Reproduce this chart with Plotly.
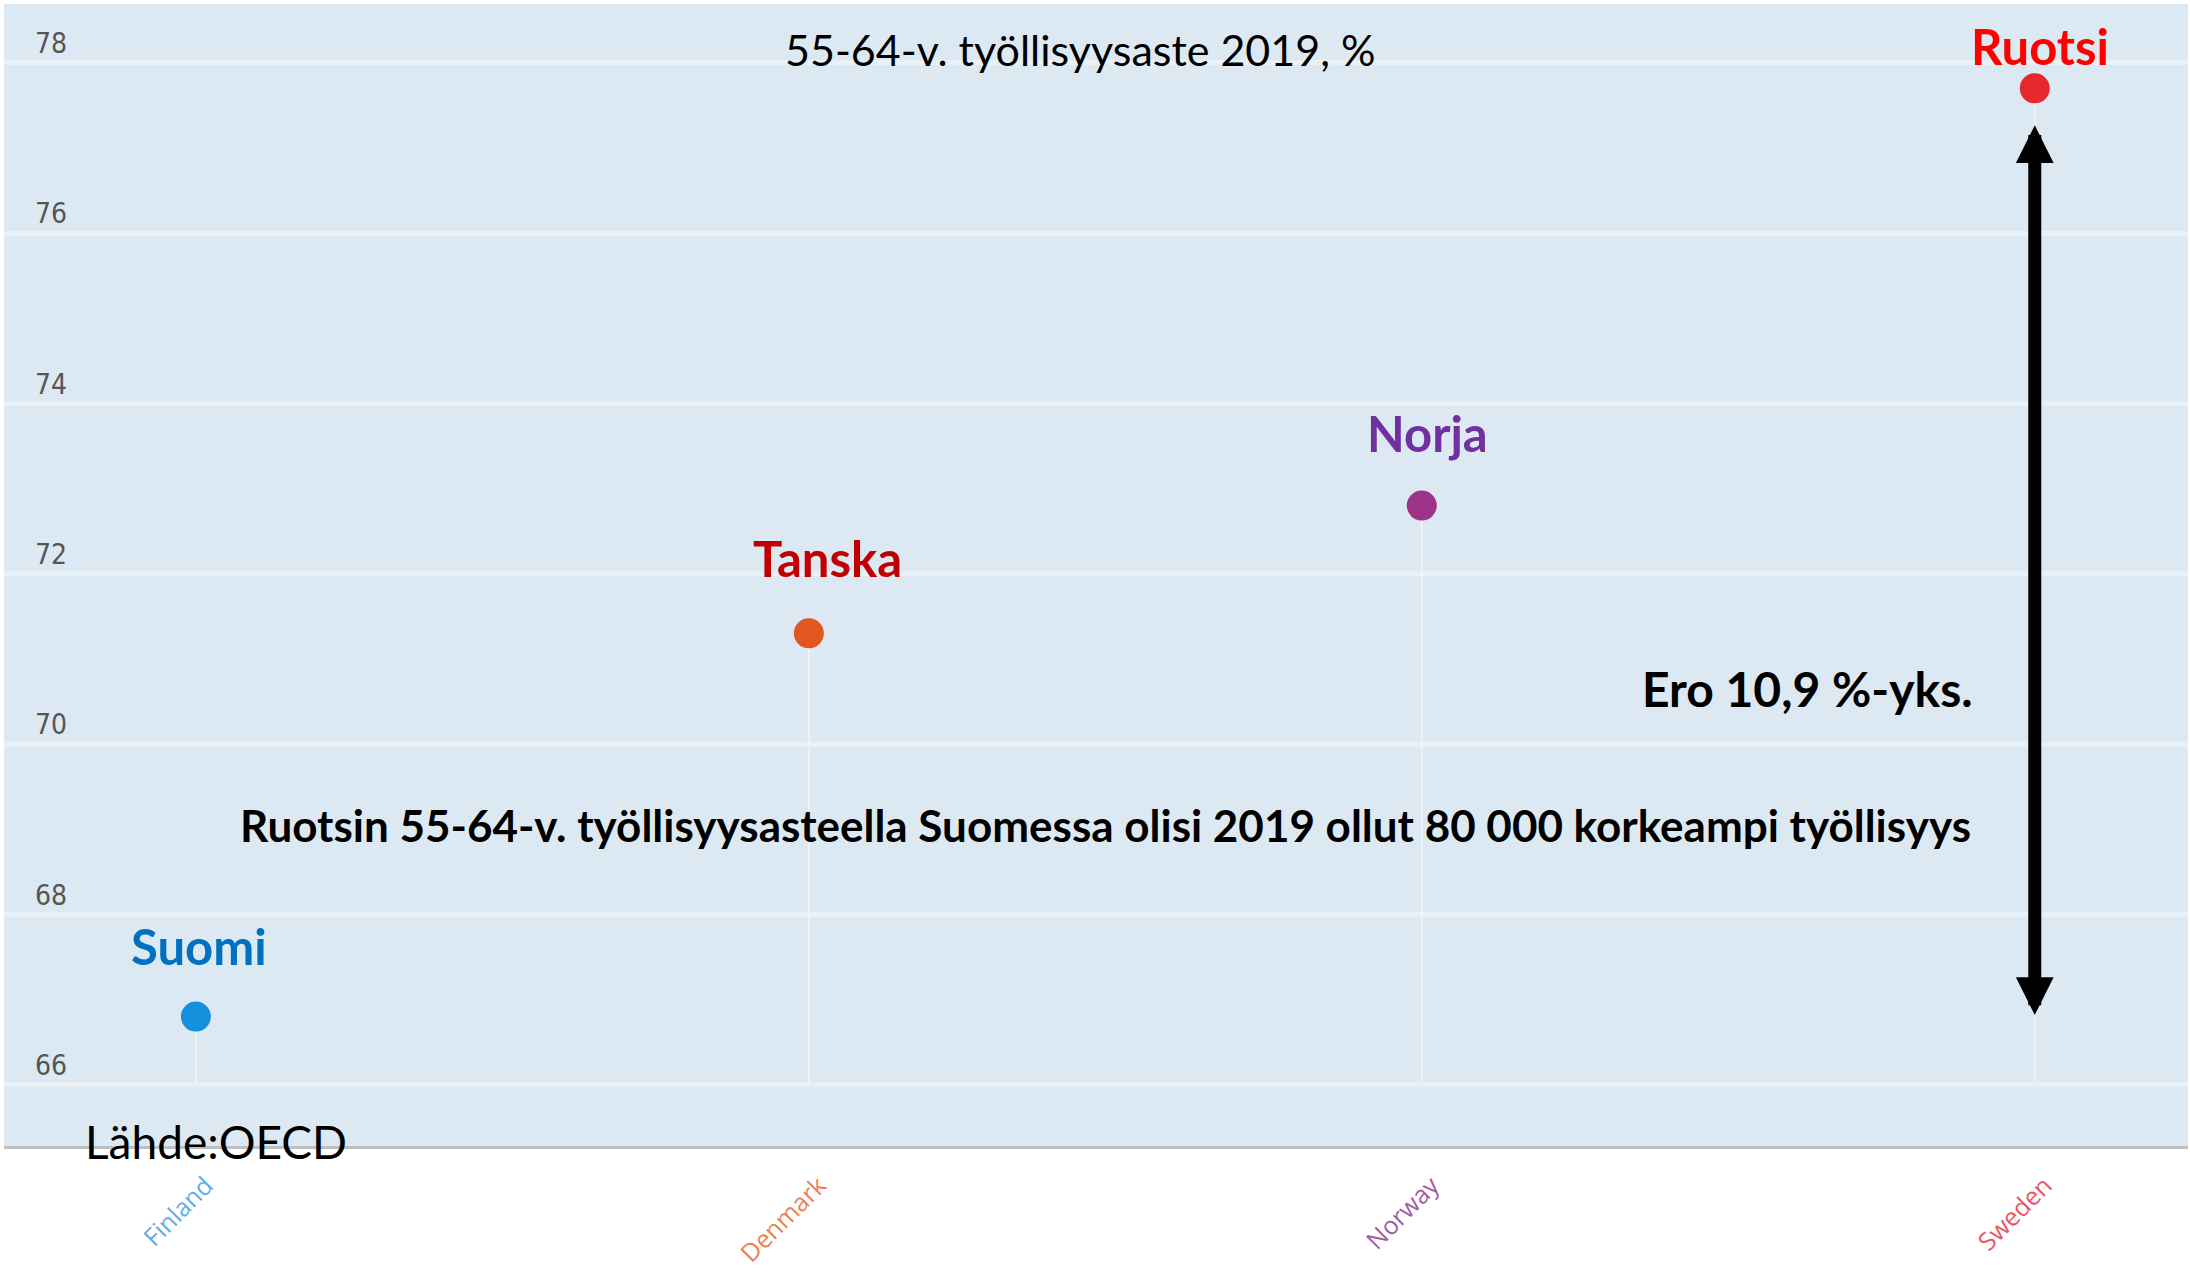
import plotly.graph_objects as go

# ---- data ----
countries = ["Finland", "Denmark", "Norway", "Sweden"]
labels_fi = ["Suomi", "Tanska", "Norja", "Ruotsi"]
rates = [66.8, 71.3, 72.8, 77.7]
dot_colors = ["#1590dc", "#e2561f", "#9c3589", "#e8282f"]
label_colors = ["#0070c0", "#c00000", "#7030a0", "#ff0000"]
tick_colors = ["#5eaee6", "#ee7f52", "#a45ca2", "#ea5560"]
y_ticks = [66, 68, 70, 72, 74, 76, 78]
baseline = 66

title_text = "55-64-v. työllisyysaste 2019, %"
diff_text = "Ero 10,9 %-yks."
note_text = "Ruotsin 55-64-v. työllisyysasteella Suomessa olisi 2019 ollut 80 000 korkeampi työllisyys"
source_text = "Lähde:OECD"

FONT = "Lato, 'Open Sans', sans-serif"

W, H = 2190, 1276
L, R, T, B = 4, 2, 4, 130
pw, ph = W - L - R, H - T - B


def px_x(x):
    return (x - L) / pw


def px_y(y):
    return 1 - (y - T) / ph


fig = go.Figure()

# stems
for c, v in zip(countries, rates):
    fig.add_trace(go.Scatter(
        x=[c, c], y=[baseline, v], mode="lines",
        line=dict(color="#eef3f8", width=2),
        hoverinfo="skip", showlegend=False))

# dots
fig.add_trace(go.Scatter(
    x=countries, y=rates, mode="markers",
    marker=dict(size=30, color=dot_colors, line=dict(width=0)),
    showlegend=False, hovertemplate="%{x}: %{y}<extra></extra>"))

annotations = []
# country labels above dots
yshifts = [71, 75, 73, 42]
xshifts = [3, 19, 6, 5]
for i, (lab, col, v) in enumerate(zip(labels_fi, label_colors, rates)):
    annotations.append(dict(
        x=i, y=v, xref="x", yref="y", text="<b>%s</b>" % lab, showarrow=False,
        xshift=xshifts[i], yshift=yshifts[i], xanchor="center", yanchor="middle",
        font=dict(family=FONT, size=49, color=col)))

# title
annotations.append(dict(
    x=px_x(1080), y=px_y(49), xref="paper", yref="paper", text=title_text,
    showarrow=False, xanchor="center", yanchor="middle",
    font=dict(family=FONT, size=43, color="#000000")))

# double-headed arrow
i_sw = countries.index("Sweden")
i_fi = countries.index("Finland")
annotations.append(dict(
    x=i_sw, y=rates[i_sw], ax=i_sw, ay=rates[i_fi],
    xref="x", yref="y", axref="x", ayref="y", text="",
    showarrow=True, arrowside="end+start", arrowhead=2, startarrowhead=2,
    arrowwidth=13, arrowsize=0.58, startarrowsize=0.58,
    standoff=37, startstandoff=0, arrowcolor="#000000"))

# difference text
annotations.append(dict(
    x=i_sw, y=70.65, xref="x", yref="y", text="<b>%s</b>" % diff_text,
    showarrow=False, xshift=-227, xanchor="center", yanchor="middle",
    font=dict(family=FONT, size=48, color="#000000")))

# note text
annotations.append(dict(
    x=px_x(1105), y=px_y(825), xref="paper", yref="paper",
    text="<b>%s</b>" % note_text, showarrow=False,
    xanchor="center", yanchor="middle",
    font=dict(family=FONT, size=44, color="#000000")))

# source
annotations.append(dict(
    x=px_x(216), y=px_y(1141), xref="paper", yref="paper", text=source_text,
    showarrow=False, xanchor="center", yanchor="middle",
    font=dict(family=FONT, size=46, color="#000000")))

ticktext = ["<span style='color:%s'>%s</span>" % (c, n) for c, n in zip(tick_colors, countries)]

fig.update_layout(
    width=W, height=H,
    margin=dict(l=L, r=R, t=T, b=B),
    paper_bgcolor="#ffffff",
    plot_bgcolor="#dde9f2",
    showlegend=False,
    annotations=annotations,
    xaxis=dict(
        type="category", range=[-0.313, 3.25], automargin=False,
        tickmode="array", tickvals=countries, ticktext=ticktext,
        tickangle=-45, tickfont=dict(family="'Open Sans', sans-serif", size=25),
        showgrid=False, zeroline=False,
        showline=True, linecolor="#bcc0c4", linewidth=3,
        ticks="", ticklabelstandoff=12, ticklabelshift=10,
    ),
    yaxis=dict(
        range=[65.28, 78.69], tickvals=y_ticks, automargin=False,
        ticklabelposition="inside top",
        tickfont=dict(family="'Liberation Sans Narrow', 'DejaVu Sans Condensed', sans-serif",
                      size=28, color="#555555"),
        ticklabelstandoff=28,
        showgrid=True, gridcolor="#e9f0f6", gridwidth=5,
        zeroline=False, showline=False, ticks="",
    ),
)

fig.write_html(
    "out.html",
    config={"displayModeBar": False},
    post_script="document.body.style.margin='0';document.body.style.overflow='hidden';",
)
